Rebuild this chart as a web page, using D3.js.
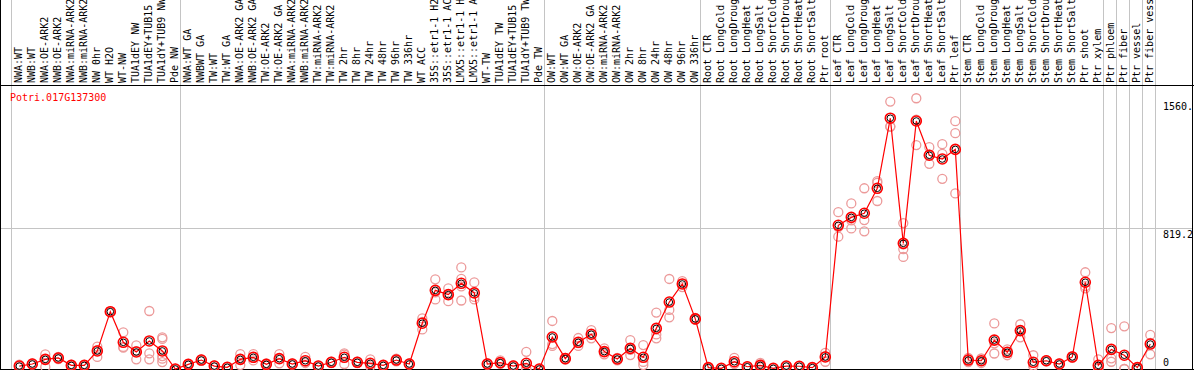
<!DOCTYPE html>
<html lang="en">
<head>
<meta charset="UTF-8">
<title>Potri.017G137300</title>
<script src="https://cdn.jsdelivr.net/npm/d3@7"></script>
<style>
  body { margin: 0; padding: 0; background: #fff; }
  svg { display: block; font-family: "DejaVu Sans Mono", monospace; font-size: 10px; }
</style>
</head>
<body>
<div id="chart"></div>
<script>
  const geneName = "Potri.017G137300";

  const samples = [
    "NWA:WT", "NWB:WT", "NWA:OE-ARK2", "NWB:OE-ARK2", "NWA:miRNA-ARK2", "NWB:miRNA-ARK2",
    "NW 0hr", "WT H2O", "WT-NW", "TUA1dEY NW", "TUA1dEY+TUB15", "TUA1dY+TUB9 NW", "Pde NW",
    "NWA:WT GA", "NWBWT GA", "TW:WT", "TW:WT GA", "NWA:OE-ARK2 GA", "NWB:OE-ARK2 GA",
    "TW:OE-ARK2", "TW:OE-ARK2 GA", "NWA:miRNA-ARK2", "NWB:miRNA-ARK2", "TW:miRNA-ARK2",
    "TW:miRNA-ARK2", "TW 2hr", "TW 8hr", "TW 24hr", "TW 48hr", "TW 96hr", "TW 336hr",
    "WT ACC", "35S::etr1-1 H2O", "35S::etr1-1 ACC", "LMX5::etr1-1 H2O", "LMX5::etr1-1 ACC",
    "WT-TW", "TUA1dEY TW", "TUA1dEY+TUB15", "TUA1dY+TUB9 TW", "Pde TW",
    "OW:WT", "OW:WT GA", "OW:OE-ARK2", "OW:OE-ARK2 GA", "OW:miRNA-ARK2", "OW:miRNA-ARK2",
    "OW 2hr", "OW 8hr", "OW 24hr", "OW 48hr", "OW 96hr", "OW 336hr",
    "Root CTR", "Root LongCold", "Root LongDrought", "Root LongHeat", "Root LongSalt",
    "Root ShortCold", "Root ShortDrought", "Root ShortHeat", "Root ShortSalt", "Ptr root",
    "Leaf CTR", "Leaf LongCold", "Leaf LongDrought", "Leaf LongHeat", "Leaf LongSalt",
    "Leaf ShortCold", "Leaf ShortDrought", "Leaf ShortHeat", "Leaf ShortSalt", "Ptr leaf",
    "Stem CTR", "Stem LongCold", "Stem LongDrought", "Stem LongHeat", "Stem LongSalt",
    "Stem ShortCold", "Stem ShortDrought", "Stem ShortHeat", "Stem ShortSalt", "Ptr shoot", "Ptr xylem",
    "Ptr phloem", "Ptr fiber", "Ptr vessel", "Ptr fiber vessel"
  ];

  // mean expression per sample
  const means = [
    17, 29, 56, 64, 21, 21, 105, 333, 155, 99, 163, 105, 0,
    27, 52, 17, 10, 56, 68, 27, 60, 29, 48, 17, 39, 68, 39, 33, 21, 52, 29,
    266, 457, 432, 498, 442, 29, 37, 17, 33, 0,
    186, 60, 155, 202, 101, 58, 120, 68, 236, 389, 494, 291,
    8, 4, 42, 13, 21, 4, 17, 16, 8, 70,
    835, 881, 905, 1050, 1457, 730, 1441, 1242, 1220, 1276,
    52, 48, 168, 97, 223, 39, 48, 29, 70, 504, 21,
    114, 80, 8, 145
  ];

  // individual replicates per sample
  const replicates = [
    [10, 25, 17], [25, 30, 33], [85, 56, 12], [58, 70, 64], [15, 25, 21], [18, 24, 21],
    [130, 70, 110], [330, 336, 333], [213, 124, 128], [137, 56, 104], [337, 91, 56],
    [184, 175, 75, 60, 40], [0, 0, 0],
    [27, 30, 24], [52, 48, 56], [10, 20, 21], [8, 12, 10], [87, 23, 58], [87, 50, 67],
    [33, 21, 27], [87, 33, 60], [25, 33, 29], [71, 35, 38], [14, 20, 17], [35, 43, 39],
    [91, 29, 84], [35, 43, 39], [56, 15, 28], [18, 24, 21], [60, 45, 51], [25, 33, 29],
    [294, 230, 274], [521, 404, 446], [469, 394, 433], [590, 398, 480, 524], [503, 404, 419],
    [24, 34, 29], [50, 30, 31], [12, 22, 17], [100, 0, 0], [0, 0, 0],
    [279, 134, 145], [60, 55, 65], [180, 134, 151], [226, 178, 202], [120, 85, 99],
    [50, 60, 64], [168, 81, 111], [139, 23, 41], [328, 178, 201], [523, 343, 300],
    [511, 476, 494], [285, 297, 291],
    [8, 8, 8], [4, 4, 4], [65, 30, 31], [13, 13, 13], [35, 10, 18], [4, 4, 4],
    [17, 17, 17], [16, 16, 16], [8, 8, 8], [94, 42, 74],
    [911, 769, 825], [962, 817, 864], [1050, 865, 800], [1092, 976, 1082],
    [1554, 1410, 1407], [848, 697, 651, 724], [1573, 1301, 1449], [1289, 1192, 1245],
    [1306, 1250, 1105], [1440, 1370, 1020],
    [52, 40, 64], [48, 35, 61], [265, 90, 149], [97, 80, 114], [260, 184, 225],
    [80, 20, 17], [48, 45, 51], [29, 25, 33], [70, 65, 75], [562, 469, 481], [56, 5, 2],
    [238, 62, 42], [248, 0, 0], [8, 10, 6], [198, 85, 152]
  ];

  // sample indices where a new group starts (vertical separators)
  const groupStarts = [0, 13, 41, 53, 63, 73, 84, 85, 86, 87, 88];

  const yMax = 1638.4;
  const yTicks = [1560, 819.2, 0];
  const yTickLabels = ["1560.", "819.2", "0"];

  const width = 1194, height = 370;
  const headerBottom = 86, plotBottom = 369, plotRight = 1156;

  const x = d3.scaleLinear().domain([0, samples.length - 1]).range([19.3, 1150.3]);
  const colW = x(1) - x(0);
  const sepX = k => Math.round(x(k) - colW * 0.64) + 0.5;
  const y = d3.scaleLinear().domain([0, yMax]).range([plotBottom, 87]);

  const svg = d3.select("#chart").append("svg")
    .attr("width", width)
    .attr("height", height);

  svg.append("rect").attr("width", width).attr("height", height).attr("fill", "#fff");

  // group separators
  svg.append("g")
    .selectAll("line")
    .data(groupStarts)
    .join("line")
    .attr("x1", sepX).attr("x2", sepX)
    .attr("y1", 0).attr("y2", plotBottom)
    .attr("stroke", "#c4c4c4");

  // midline at 819.2
  svg.append("line")
    .attr("x1", 0).attr("x2", width - 1)
    .attr("y1", Math.round(y(819.2)) + 0.5).attr("y2", Math.round(y(819.2)) + 0.5)
    .attr("stroke", "#c4c4c4");

  // frame
  svg.append("line").attr("x1", 0).attr("x2", width).attr("y1", headerBottom - 0.5).attr("y2", headerBottom - 0.5)
    .attr("stroke", "#000");
  svg.append("line").attr("x1", 0).attr("x2", width).attr("y1", plotBottom + 0.5).attr("y2", plotBottom + 0.5)
    .attr("stroke", "#000");
  svg.append("line").attr("x1", 0.5).attr("x2", 0.5).attr("y1", 0).attr("y2", height)
    .attr("stroke", "#000");
  svg.append("line").attr("x1", width - 1.5).attr("x2", width - 1.5).attr("y1", 0).attr("y2", height)
    .attr("stroke", "#000");

  // sample labels
  svg.append("g")
    .selectAll("text")
    .data(samples)
    .join("text")
    .attr("transform", (d, i) => `translate(${x(i) + 3},${headerBottom - 3}) rotate(-90)`)
    .attr("fill", "#000")
    .text(d => d);

  // y labels
  svg.append("g")
    .selectAll("text")
    .data(yTicks)
    .join("text")
    .attr("x", plotRight + 7)
    .attr("y", d => Math.min(y(d) + 9.5, plotBottom - 3))
    .attr("fill", "#000")
    .text((d, i) => yTickLabels[i]);

  // gene title
  svg.append("text")
    .attr("x", 10).attr("y", 101)
    .attr("fill", "#ff0000")
    .text(geneName);

  // replicates
  const reps = replicates.flatMap((r, i) => r.map(v => ({ i, v })));
  svg.append("g")
    .selectAll("circle")
    .data(reps)
    .join("circle")
    .attr("cx", d => x(d.i))
    .attr("cy", d => y(d.v))
    .attr("r", 4.5)
    .attr("fill", "none")
    .attr("stroke", "#ec9a9a")
    .attr("stroke-width", 1.3);

  // mean line
  svg.append("path")
    .datum(means)
    .attr("fill", "none")
    .attr("stroke", "#ff0000")
    .attr("stroke-width", 1.2)
    .attr("d", d3.line().x((d, i) => x(i)).y(d => y(d)));

  // mean markers
  const m = svg.append("g")
    .selectAll("g")
    .data(means)
    .join("g")
    .attr("transform", (d, i) => `translate(${x(i)},${y(d)})`);
  m.append("circle").attr("r", 5).attr("fill", "none").attr("stroke", "#ff0000").attr("stroke-width", 1.6);
  m.append("circle").attr("r", 3.3).attr("fill", "none").attr("stroke", "#000").attr("stroke-width", 1);
</script>
</body>
</html>
